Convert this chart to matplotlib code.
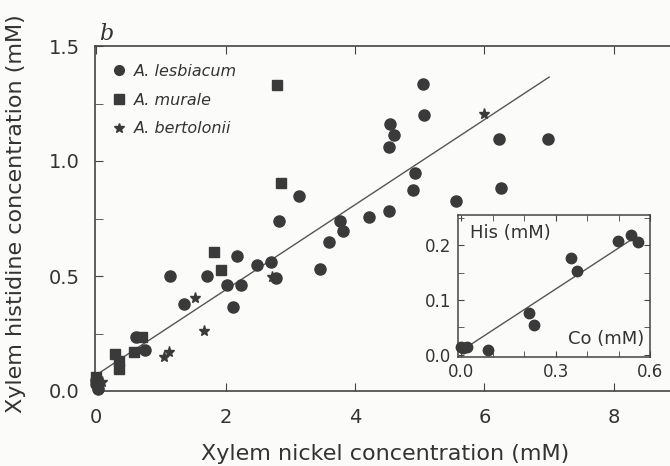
import numpy as np
import matplotlib
matplotlib.use('Agg')
import matplotlib.pyplot as plt
from matplotlib.lines import Line2D

# Main panel data (xylem Ni vs histidine, mM)
lesb_x = [0.0, 0.0, 0.02, 0.62, 0.76, 1.14, 1.36, 1.71, 2.02, 2.12, 2.17, 2.24,
          2.48, 2.70, 2.78, 2.83, 3.13, 3.45, 3.59, 3.76, 3.82, 4.22, 4.52, 4.53,
          4.54, 4.60, 4.89, 4.93, 5.05, 5.06, 5.56, 6.22, 6.26, 6.98]
lesb_y = [0.03, 0.05, 0.01, 0.235, 0.18, 0.50, 0.38, 0.50, 0.46, 0.365, 0.587, 0.46,
          0.548, 0.562, 0.493, 0.74, 0.847, 0.53, 0.647, 0.74, 0.694, 0.757, 0.782, 1.063,
          1.163, 1.111, 0.876, 0.946, 1.335, 1.198, 0.825, 1.095, 0.883, 1.095]

mur_x = [0.0, 0.02, 0.29, 0.35, 0.35, 0.58, 0.70, 1.82, 1.93, 2.79, 2.86]
mur_y = [0.06, 0.02, 0.16, 0.13, 0.095, 0.17, 0.235, 0.604, 0.527, 1.33, 0.905]

bert_x = [0.09, 1.04, 1.12, 1.53, 1.66, 2.72, 5.99]
bert_y = [0.04, 0.146, 0.168, 0.403, 0.261, 0.497, 1.205]

fit_x = [0.0, 7.0]
fit_y = [0.07, 1.365]

# Inset data (xylem Co vs histidine, mM)
co_x = [0.0, 0.005, 0.02, 0.085, 0.216, 0.233, 0.348, 0.368, 0.499, 0.541, 0.561]
co_y = [0.015, 0.012, 0.014, 0.008, 0.077, 0.055, 0.177, 0.153, 0.208, 0.219, 0.206]
co_fit_x = [0.0125, 0.554]
co_fit_y = [0.012, 0.215]

W, H = 670, 466
fig = plt.figure(figsize=(W / 100, H / 100), dpi=100)
fig.patch.set_facecolor('#fbfbfa')

txt = '#333333'
mk = '#3a3a3a'

# main axes, right edge runs past the image
x0, x1 = -0.02, 9.2
left, bottom, top = 95, 391, 46
right = left + (x1 - x0) * 64.7
ax = fig.add_axes([left / W, (H - bottom) / H, (right - left) / W, (bottom - top) / H])
ax.set_facecolor('none')
ax.set_xlim(x0, x1)
ax.set_ylim(0, 1.5)

ax.plot(fit_x, fit_y, color='#555555', lw=1.0, zorder=2)
ax.plot(lesb_x, lesb_y, 'o', color=mk, ms=8, mec=mk, zorder=3, clip_on=False)
ax.plot(mur_x, mur_y, 's', color=mk, ms=7.5, mec=mk, zorder=3, clip_on=False)
ax.plot(bert_x, bert_y, '*', color=mk, ms=8, mec=mk, zorder=3, clip_on=False)

ax.set_xticks([0, 2, 4, 6, 8])
ax.set_yticks([0, 0.5, 1.0, 1.5])
ax.set_yticks([0.25, 0.75, 1.25], minor=True)
ax.set_yticklabels(['0.0', '0.5', '1.0', '1.5'])
ax.tick_params(axis='both', which='both', direction='in', color='#444444',
               labelsize=14, labelcolor=txt, top=True, length=6)
ax.tick_params(axis='y', pad=11)
ax.tick_params(axis='x', pad=12)
for s in ['left', 'bottom', 'top']:
    ax.spines[s].set_color('#444444')
    ax.spines[s].set_linewidth(1.2)
ax.spines['right'].set_visible(False)

ax.set_xlabel('Xylem nickel concentration (mM)', fontsize=16, color=txt)
ax.set_ylabel('Xylem histidine concentration (mM)', fontsize=16, color=txt)
ax.xaxis.set_label_coords(0.487, -0.155)
ax.yaxis.set_label_coords(-0.115, 0.513)

handles = [
    Line2D([], [], marker='o', ls='none', color=mk, ms=7),
    Line2D([], [], marker='s', ls='none', color=mk, ms=6.5),
    Line2D([], [], marker='*', ls='none', color=mk, ms=7),
]
leg = ax.legend(handles, ['A. lesbiacum', 'A. murale', 'A. bertolonii'],
                loc='upper left', bbox_to_anchor=(0.0, 0.99), frameon=False,
                prop={'style': 'italic', 'size': 11.5}, labelcolor=txt,
                handletextpad=0.35, handlelength=1.2, labelspacing=0.86)

fig.text(106 / W, 1 - 34 / H, 'b', fontsize=16, style='italic', family='DejaVu Serif',
         color=txt, ha='center', va='center')

# inset
il, ir, it, ib = 458, 650, 215, 357
ins = fig.add_axes([il / W, (H - ib) / H, (ir - il) / W, (ib - it) / H])
ins.set_facecolor('#fbfbfa')
ins.set_xlim(-0.01, 0.59)
ins.set_ylim(-0.004, 0.255)
ins.plot(co_fit_x, co_fit_y, color='#555555', lw=1.0, zorder=2)
ins.plot(co_x, co_y, 'o', color=mk, ms=7.5, zorder=3, clip_on=False)
ins.set_xticks([0.0, 0.3, 0.6])
ins.set_xticklabels(['0.0', '0.3', '0.6'])
ins.set_xticks([0.1, 0.2, 0.4, 0.5], minor=True)
ins.set_yticks([0.0, 0.1, 0.2])
ins.set_yticklabels(['0.0', '0.1', '0.2'])
ins.set_yticks([0.05, 0.15, 0.25], minor=True)
ins.tick_params(axis='both', which='both', direction='in', length=4, color='#444444',
                labelsize=12, labelcolor=txt, top=True, right=True)
ins.tick_params(axis='x', pad=4)
ins.tick_params(axis='y', pad=5)
for s in ins.spines.values():
    s.set_color('#444444')
    s.set_linewidth(1.1)
ins.text(0.06, 0.87, 'His (mM)', transform=ins.transAxes, fontsize=13, color=txt,
         ha='left', va='center')
ins.text(0.97, 0.13, 'Co (mM)', transform=ins.transAxes, fontsize=13, color=txt,
         ha='right', va='center')

fig.savefig('out.png', dpi=100, facecolor=fig.get_facecolor())
